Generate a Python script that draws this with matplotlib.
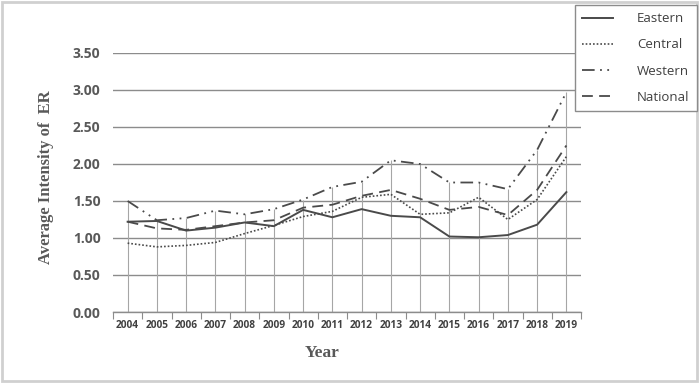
import matplotlib
matplotlib.use("Agg")
import matplotlib.pyplot as plt
from matplotlib.patches import Rectangle

years = [str(y) for y in range(2004, 2020)]
eastern = [1.22, 1.23, 1.10, 1.14, 1.21, 1.16, 1.38, 1.28, 1.39, 1.30, 1.28, 1.02, 1.01, 1.04, 1.18, 1.62]
central = [0.93, 0.88, 0.90, 0.94, 1.06, 1.17, 1.29, 1.36, 1.55, 1.59, 1.32, 1.34, 1.55, 1.25, 1.52, 2.10]
western = [1.50, 1.24, 1.27, 1.37, 1.32, 1.39, 1.52, 1.69, 1.76, 2.05, 2.00, 1.75, 1.75, 1.66, 2.19, 2.97]
national = [1.22, 1.13, 1.11, 1.16, 1.21, 1.24, 1.41, 1.45, 1.57, 1.65, 1.53, 1.38, 1.42, 1.31, 1.65, 2.25]
yticks = [0.0, 0.5, 1.0, 1.5, 2.0, 2.5, 3.0, 3.5]

fig = plt.figure(figsize=(6.99, 3.83), dpi=100)
ax = fig.add_axes([113/699, 1-312/383, (581-113)/699, (312-53)/383])

x = list(range(len(years)))
lc = '#4a4a4a'
# drop lines
tops = [max(a, b, c, d) for a, b, c, d in zip(eastern, central, western, national)]
ax.vlines(x, 0, tops, color='#a6a6a6', lw=0.8, zorder=1)

ax.plot(x, eastern, color=lc, lw=1.4, ls='-', label='Eastern', zorder=3)
ax.plot(x, central, color=lc, lw=1.2, ls=(0, (1, 1.2)), label='Central', zorder=3)
ax.plot(x, western, color=lc, lw=1.3, ls=(0, (7, 3, 1, 3, 1, 3)), label='Western', zorder=3)
ax.plot(x, national, color=lc, lw=1.3, ls=(0, (6, 3.5)), label='National', zorder=3)

ax.set_xlim(-0.5, len(years) - 0.5)
ax.set_ylim(0, 3.5)
ax.set_yticks(yticks)
ax.set_yticklabels([f"{v:.2f}" for v in yticks])
ax.yaxis.grid(True, color='#8c8c8c', lw=1.0)
ax.set_axisbelow(True)
for s in ['top', 'right', 'left']:
    ax.spines[s].set_visible(False)
ax.spines['bottom'].set_color('#8c8c8c')
ax.spines['bottom'].set_linewidth(1.0)
ax.tick_params(axis='y', length=0, pad=9, labelsize=10, labelcolor='#595959')
ax.set_xticks([i - 0.5 for i in range(len(years) + 1)])
ax.set_xticklabels([])
ax.set_xticks(x, minor=True)
ax.set_xticklabels(years, minor=True)
ax.tick_params(axis='x', which='major', length=5, color='#8c8c8c', direction='out')
ax.tick_params(axis='x', which='minor', length=0, pad=6, labelsize=7.3, labelcolor='#404040')
for lab in ax.get_yticklabels():
    lab.set_fontfamily('Open Sans'); lab.set_fontweight('bold')
for lab in ax.get_xticklabels(minor=True):
    lab.set_fontfamily('Open Sans'); lab.set_fontweight('bold')

fig.text(46/699, 1-177/383, 'Average Intensity of  ER', rotation=90, ha='center', va='center',
         fontsize=12, fontweight='bold', family='Liberation Serif', color='#595959')
fig.text(322/699, 1-353/383, 'Year', ha='center', va='center',
         fontsize=12.5, fontweight='bold', family='Liberation Serif', color='#595959')

leg = fig.legend(loc='upper right', bbox_to_anchor=(697/699, 1-5/383), bbox_transform=fig.transFigure,
                 borderaxespad=0, fancybox=False, edgecolor='#8c8c8c', framealpha=1, handlelength=2.4,
                 labelspacing=1.0, borderpad=0.55, handletextpad=1.8,
                 prop={'family': 'Open Sans', 'size': 9.5})
leg.get_frame().set_linewidth(1.0)
for t in leg.get_texts():
    t.set_color('#404040')

fig.patches.append(Rectangle((0.003, 0.005), 0.994, 0.99, transform=fig.transFigure,
                             fill=False, edgecolor='#d0d0d0', lw=2))
fig.savefig('out.png', dpi=100)
